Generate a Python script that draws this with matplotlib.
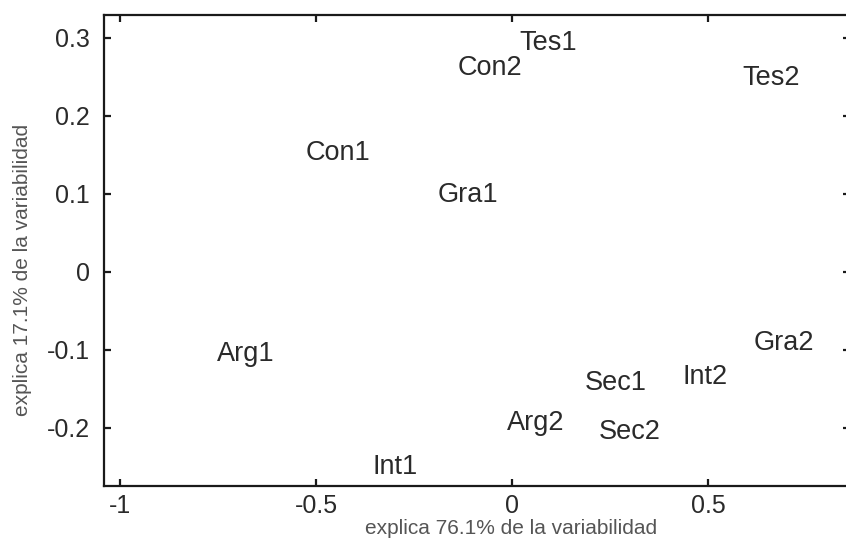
import matplotlib
matplotlib.use("Agg")
import matplotlib.pyplot as plt

# PCA scores of each sample on the first two components
labels = ["Tes1", "Con2", "Tes2", "Con1", "Gra1", "Arg1",
          "Gra2", "Int2", "Sec1", "Arg2", "Sec2", "Int1"]
pc1 = [0.018, -0.140, 0.587, -0.526, -0.189, -0.753,
       0.617, 0.434, 0.186, -0.013, 0.222, -0.355]
pc2 = [0.294, 0.262, 0.249, 0.153, 0.099, -0.105,
       -0.091, -0.135, -0.142, -0.194, -0.205, -0.250]

xticks = [-1, -0.5, 0, 0.5]
xtick_labels = ["-1", "-0.5", "0", "0.5"]
yticks = [-0.2, -0.1, 0, 0.1, 0.2, 0.3]
ytick_labels = ["-0.2", "-0.1", "0", "0.1", "0.2", "0.3"]

plt.rcParams["font.family"] = ["Liberation Sans", "DejaVu Sans"]
plt.rcParams["axes.unicode_minus"] = False

fig = plt.figure(figsize=(8.46, 5.45), dpi=100)
ax = fig.add_axes([0.1229, 0.1083, 0.8818, 0.8642])

for name, x, y in zip(labels, pc1, pc2):
    ax.text(x, y, name, ha="left", va="center", fontsize=19.5, color="#2a2a2a")

ax.set_xlim(-1.041, 0.862)
ax.set_ylim(-0.2744, 0.3295)
ax.set_xticks(xticks)
ax.set_xticklabels(xtick_labels)
ax.set_yticks(yticks)
ax.set_yticklabels(ytick_labels)

for side in ["left", "bottom", "top"]:
    ax.spines[side].set_linewidth(1.6)
    ax.spines[side].set_color("#1a1a1a")
ax.spines["right"].set_visible(False)

ax.tick_params(direction="in", length=5, width=1.6, color="#1a1a1a",
               labelsize=18, labelcolor="#2a2a2a",
               top=True, right=True)
ax.tick_params(axis="x", pad=6)
ax.tick_params(axis="y", pad=10)

ax.set_xlabel("explica 76.1% de la variabilidad", fontsize=15,
              color="#555555")
ax.set_ylabel("explica 17.1% de la variabilidad", fontsize=15,
              color="#555555")
ax.xaxis.set_label_coords(0.5456, -0.071)
ax.yaxis.set_label_coords(-0.096, 0.4597)

fig.savefig("out.png", dpi=100)
